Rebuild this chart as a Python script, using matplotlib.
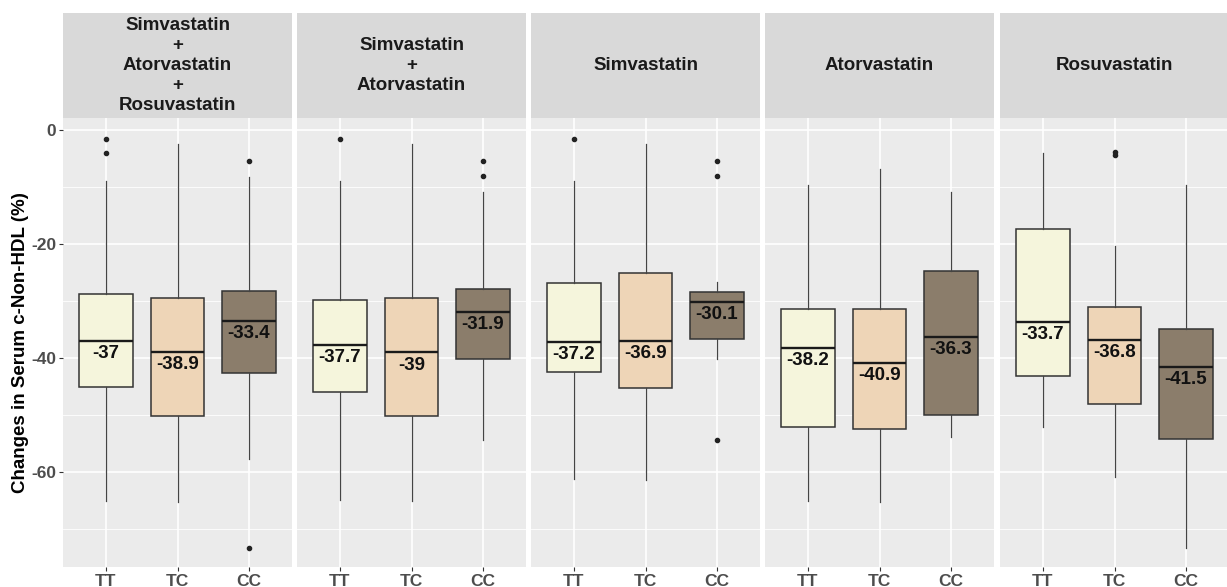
import matplotlib
matplotlib.use("Agg")
import matplotlib.pyplot as plt
from matplotlib.ticker import MultipleLocator

plt.rcParams["font.family"] = ["Liberation Sans", "DejaVu Sans"]

# ---- data ----
panels = [
    "Simvastatin\n+\nAtorvastatin\n+\nRosuvastatin",
    "Simvastatin\n+\nAtorvastatin",
    "Simvastatin",
    "Atorvastatin",
    "Rosuvastatin",
]
genotypes = ["TT", "TC", "CC"]

# one row per panel, one entry per genotype (TT, TC, CC)
whisker_low = [
    [-65.0, -65.2, -57.6],
    [-64.9, -65.0, -54.3],
    [-61.1, -61.3, -40.1],
    [-65.0, -65.2, -53.8],
    [-52.1, -60.8, -73.2],
]
q1 = [
    [-45.0, -50.2, -42.6],
    [-45.9, -50.2, -40.2],
    [-42.5, -45.2, -36.6],
    [-52.0, -52.4, -49.9],
    [-43.2, -48.0, -54.1],
]
median = [
    [-37.0, -38.9, -33.4],
    [-37.7, -39.0, -31.9],
    [-37.2, -36.9, -30.1],
    [-38.2, -40.9, -36.3],
    [-33.7, -36.8, -41.5],
]
q3 = [
    [-28.7, -29.5, -28.3],
    [-29.8, -29.4, -27.9],
    [-26.9, -25.1, -28.4],
    [-31.4, -31.3, -24.7],
    [-17.3, -31.1, -34.8],
]
whisker_high = [
    [-8.9, -2.4, -8.2],
    [-8.9, -2.4, -10.8],
    [-8.9, -2.4, -26.6],
    [-9.6, -6.9, -10.8],
    [-4.0, -20.3, -9.7],
]
outliers = [
    [[-1.6, -4.0], [], [-5.4, -73.3]],
    [[-1.6], [], [-5.4, -8.1]],
    [[-1.6], [], [-5.4, -8.1, -54.3]],
    [[], [], []],
    [[], [-3.9, -4.4], []],
]

fills = ["#F5F5DC", "#EED5B7", "#8B7D6B"]
edge = "#333333"

W, H = 1227, 587
fig = plt.figure(figsize=(W / 100, H / 100), dpi=100)

panel_left = [63, 297, 531, 765, 1000]
panel_w = 229
top_px, bottom_px = 118, 567
strip_top = 13

for i, title in enumerate(panels):
    x0 = panel_left[i] / W
    w = panel_w / W
    ax = fig.add_axes([x0, 1 - bottom_px / H, w, (bottom_px - top_px) / H])
    sax = fig.add_axes([x0, 1 - top_px / H, w, (top_px - strip_top) / H])

    stats = []
    for j in range(3):
        stats.append(dict(
            whislo=whisker_low[i][j], q1=q1[i][j], med=median[i][j],
            q3=q3[i][j], whishi=whisker_high[i][j], fliers=outliers[i][j],
        ))
    bp = ax.bxp(
        stats, positions=range(3), widths=0.75, patch_artist=True,
        showcaps=False, zorder=3,
        boxprops=dict(edgecolor=edge, linewidth=1.1),
        whiskerprops=dict(color="#444444", linewidth=0.9),
        medianprops=dict(color="#1a1a1a", linewidth=1.7),
        flierprops=dict(marker="o", markerfacecolor="#222222",
                        markeredgecolor="#222222", markersize=3),
    )
    for patch, c in zip(bp["boxes"], fills):
        patch.set_facecolor(c)

    # median value written just under each median line
    for j in range(3):
        m = median[i][j]
        ax.text(j, m - 2.2, f"{m:g}", ha="center", va="center",
                fontsize=13.5, fontweight="bold", color="#111111", zorder=4)

    ax.set_xlim(-0.6, 2.6)
    ax.set_ylim(-76.6, 2.1)
    ax.set_facecolor("#EBEBEB")
    ax.yaxis.set_major_locator(MultipleLocator(20))
    ax.yaxis.set_minor_locator(MultipleLocator(10))
    ax.grid(which="major", color="white", linewidth=1.2, zorder=0)
    ax.grid(which="minor", axis="y", color="white", linewidth=0.6, zorder=0)
    ax.set_axisbelow(True)
    for s in ax.spines.values():
        s.set_visible(False)
    ax.set_xticks(range(3))
    ax.set_xticklabels(genotypes, fontsize=12.5, fontweight="bold", color="#4D4D4D")
    ax.tick_params(axis="both", which="major", length=3, color="#333333", pad=2)
    ax.tick_params(axis="y", which="minor", length=0)
    if i == 0:
        ax.set_yticks([0, -20, -40, -60])
        ax.set_yticklabels(["0", "-20", "-40", "-60"], fontsize=12.5,
                           fontweight="bold", color="#4D4D4D")
        ax.set_ylabel("Changes in Serum c-Non-HDL (%)", fontsize=13.5,
                      fontweight="bold", color="black", labelpad=1.5)
    else:
        ax.tick_params(axis="y", which="both", labelleft=False, length=0)

    # facet strip
    sax.set_facecolor("#D9D9D9")
    sax.set_xticks([])
    sax.set_yticks([])
    for s in sax.spines.values():
        s.set_visible(False)
    sax.text(0.5, 0.5, title, ha="center", va="center", transform=sax.transAxes,
             fontsize=13.5, fontweight="bold", color="#1A1A1A", linespacing=1.25)

fig.savefig("out.png", dpi=100)
